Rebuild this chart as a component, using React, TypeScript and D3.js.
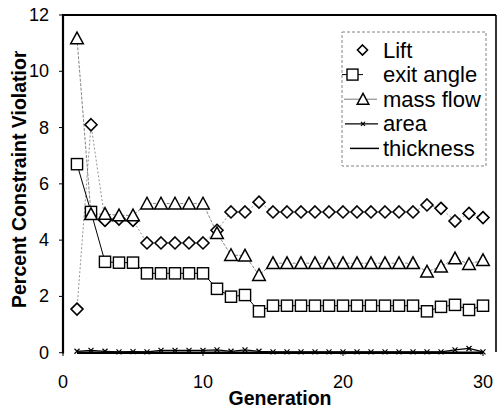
import React from "react";
import * as d3 from "d3";

const generations = d3.range(1, 31);
const lift = [1.55, 8.1, 4.7, 4.75, 4.7, 3.9, 3.9, 3.9, 3.9, 3.9, 4.35, 5.0, 5.0, 5.35, 5.0, 5.0, 5.0, 5.0, 5.0, 5.0, 5.0, 5.0, 5.0, 5.0, 5.0, 5.25, 5.13, 4.68, 4.95, 4.8];
const exitAngle = [6.7, 5.0, 3.23, 3.2, 3.2, 2.82, 2.82, 2.82, 2.82, 2.82, 2.27, 1.99, 2.05, 1.47, 1.67, 1.67, 1.67, 1.67, 1.67, 1.67, 1.67, 1.67, 1.67, 1.67, 1.67, 1.47, 1.63, 1.7, 1.52, 1.67];
const massFlow = [11.17, 4.92, 4.93, 4.88, 4.88, 5.3, 5.3, 5.3, 5.3, 5.3, 4.25, 3.47, 3.45, 2.76, 3.18, 3.18, 3.18, 3.18, 3.18, 3.18, 3.18, 3.18, 3.18, 3.18, 3.18, 2.88, 3.06, 3.35, 3.15, 3.29];
const area = [0.05, 0.08, 0.05, 0.03, 0.04, 0.03, 0.08, 0.08, 0.08, 0.08, 0.1, 0.05, 0.1, 0.05, 0.03, 0.03, 0.03, 0.03, 0.03, 0.03, 0.03, 0.03, 0.03, 0.03, 0.03, 0.03, 0.03, 0.1, 0.15, 0.03];
const thickness = generations.map(() => 0);
const xTicks = [0, 10, 20, 30];
const yTicks = [0, 2, 4, 6, 8, 10, 12];
const legendLabels = ["Lift", "exit angle", "mass flow", "area", "thickness"];

const W = 500, H = 411;
const x = d3.scaleLinear().domain([0, 31]).range([63, 497]);
const y = d3.scaleLinear().domain([0, 12]).range([352.7, 15]);
const FONT = "'Liberation Sans', Arial, Helvetica, sans-serif";

const line = d3.line<number>().x((_, i) => x(generations[i])).y((v) => y(v));

function Diamond({ cx, cy, s = 6 }: { cx: number; cy: number; s?: number }) {
  return <path d={`M${cx},${cy - s}L${cx + s},${cy}L${cx},${cy + s}L${cx - s},${cy}Z`} fill="white" stroke="black" strokeWidth={1.6} />;
}
function Square({ cx, cy, s = 5.6 }: { cx: number; cy: number; s?: number }) {
  return <rect x={cx - s} y={cy - s} width={2 * s} height={2 * s} fill="white" stroke="black" strokeWidth={1.4} />;
}
function Tri({ cx, cy, s = 6.3 }: { cx: number; cy: number; s?: number }) {
  return <path d={`M${cx},${cy - s}L${cx + s},${cy + s * 0.85}L${cx - s},${cy + s * 0.85}Z`} fill="white" stroke="black" strokeWidth={1.5} />;
}
function XMark({ cx, cy, s = 2.5 }: { cx: number; cy: number; s?: number }) {
  return <path d={`M${cx - s},${cy - s}L${cx + s},${cy + s}M${cx - s},${cy + s}L${cx + s},${cy - s}`} stroke="black" strokeWidth={1.2} />;
}

export default function App() {
  const legX = 342, legY = 32, legW = 144, legH = 134;
  return (
    <svg width={W} height={H} style={{ position: "absolute", left: 0, top: 0, background: "white" }}>
      <defs>
        <clipPath id="ylabclip">
          <rect x={0} y={51} width={40} height={300} />
        </clipPath>
      </defs>
      {/* frame */}
      <line x1={63} y1={15} x2={496} y2={15} stroke="black" strokeWidth={2} />
      <line x1={496} y1={15} x2={496} y2={352} stroke="black" strokeWidth={1.6} />
      <line x1={63} y1={14} x2={63} y2={353.5} stroke="black" strokeWidth={2.2} />

      {/* y ticks */}
      {yTicks.map((t) => (
        <g key={t}>
          <line x1={59} x2={63} y1={y(t)} y2={y(t)} stroke="black" strokeWidth={1} />
          <text x={49} y={y(t)} textAnchor="end" dominantBaseline="central" fontFamily={FONT} fontSize={18}>{t}</text>
        </g>
      ))}
      {/* x ticks */}
      {xTicks.map((t) => (
        <g key={t}>
          <line x1={x(t)} x2={x(t)} y1={352.7} y2={356} stroke="black" strokeWidth={1} />
          <text x={x(t)} y={382} textAnchor="middle" dominantBaseline="central" fontFamily={FONT} fontSize={18}>{t}</text>
        </g>
      ))}
      <text x={280} y={398} textAnchor="middle" dominantBaseline="central" fontFamily={FONT} fontSize={19.5} fontWeight="bold">Generation</text>
      <g clipPath="url(#ylabclip)">
        <text transform={`translate(19,308) rotate(-90)`} textAnchor="start" dominantBaseline="central" fontFamily={FONT} fontSize={19.5} fontWeight="bold">Percent Constraint Violation</text>
      </g>

      {/* lines */}
      <path d={line(lift) || ""} fill="none" stroke="#888" strokeWidth={0.9} strokeDasharray="2,2" />
      <path d={line(massFlow) || ""} fill="none" stroke="#777" strokeWidth={0.9} strokeDasharray="3,1.5" />
      <path d={line(exitAngle) || ""} fill="none" stroke="black" strokeWidth={1} />
      <path d={line(thickness) || ""} fill="none" stroke="black" strokeWidth={2.5} />
      <path d={line(area) || ""} fill="none" stroke="black" strokeWidth={1.2} />

      {/* markers */}
      {area.map((v, i) => <XMark key={`a${i}`} cx={x(generations[i])} cy={y(v)} />)}
      {exitAngle.map((v, i) => <Square key={`e${i}`} cx={x(generations[i])} cy={y(v)} />)}
      {lift.map((v, i) => <Diamond key={`l${i}`} cx={x(generations[i])} cy={y(v)} />)}
      {massFlow.map((v, i) => <Tri key={`m${i}`} cx={x(generations[i])} cy={y(v)} />)}

      {/* legend */}
      <rect x={legX} y={legY} width={legW} height={legH} fill="white" stroke="#666" strokeWidth={0.8} strokeDasharray="3,2" />
      {legendLabels.map((lab, i) => {
        const ly = 50 + i * 24.6;
        return (
          <g key={lab}>
            {i === 1 && <line x1={342} x2={363} y1={ly} y2={ly} stroke="black" strokeWidth={1} />}
            {i === 2 && <line x1={344} x2={377} y1={ly} y2={ly} stroke="#777" strokeWidth={1} />}
            {i === 3 && <line x1={345} x2={378} y1={ly} y2={ly} stroke="black" strokeWidth={1.2} />}
            {i === 4 && <line x1={350} x2={379} y1={ly} y2={ly} stroke="black" strokeWidth={1.5} />}
            {i === 0 && <Diamond cx={362.5} cy={ly} s={5} />}
            {i === 1 && <Square cx={352.5} cy={ly} s={5.5} />}
            {i === 2 && <Tri cx={363} cy={ly} s={5.8} />}
            {i === 3 && <XMark cx={363} cy={ly} s={2} />}
            <text x={383} y={ly} dominantBaseline="central" fontFamily={FONT} fontSize={22}>{lab}</text>
          </g>
        );
      })}
    </svg>
  );
}
